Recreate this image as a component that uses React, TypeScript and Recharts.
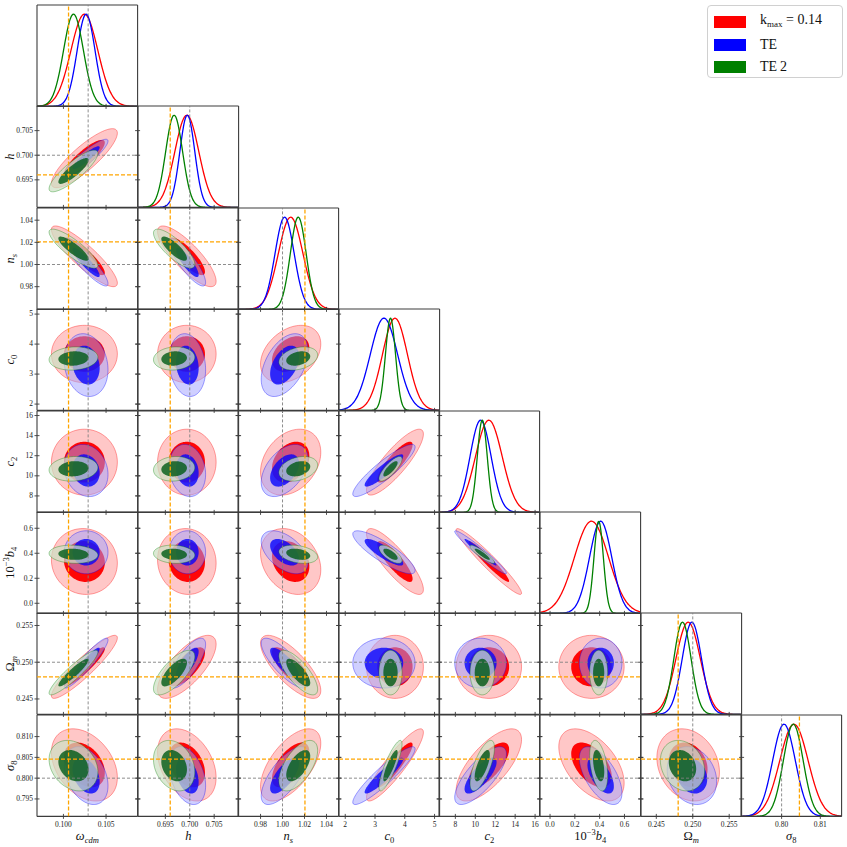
import React from 'react';
import {
  ComposedChart,
  ScatterChart,
  Scatter,
  Line,
  XAxis,
  YAxis,
  ReferenceLine,
  Legend,
} from 'recharts';

// grid geometry (page px)
const GRID_LEFT = 37;
const GRID_TOP = 5;
const CELL_W = 100.6;
const CELL_H = 101.4;
const PAD_L = 37;
const PAD_R = 6;
const PAD_T = 6;
const PAD_B = 34;
const N = 8;

const SERIF = '"Liberation Serif", "DejaVu Serif", serif';
const SPINE = '#3c3c3c';

// parameter axes
const domains: number[][] = [
  [0.0969, 0.1087],
  [0.6894, 0.71],
  [0.9595, 1.051],
  [1.79, 5.17],
  [6.36, 16.45],
  [-0.081, 0.73],
  [0.2429, 0.2567],
  [0.7908, 0.8152],
];
const tickValues: number[][] = [
  [0.1, 0.105],
  [0.695, 0.7, 0.705],
  [0.98, 1.0, 1.02, 1.04],
  [2, 3, 4, 5],
  [8, 10, 12, 14, 16],
  [0.0, 0.2, 0.4, 0.6],
  [0.245, 0.25, 0.255],
  [0.795, 0.8, 0.805, 0.81],
];
const tickLabels: string[][] = [
  ['0.100', '0.105'],
  ['0.695', '0.700', '0.705'],
  ['0.98', '1.00', '1.02', '1.04'],
  ['2', '3', '4', '5'],
  ['8', '10', '12', '14', '16'],
  ['0.0', '0.2', '0.4', '0.6'],
  ['0.245', '0.250', '0.255'],
  ['0.795', '0.800', '0.805', '0.810'],
];
const s8DiagDomain = [0.7895, 0.8155];
const s8DiagTicks = [0.8, 0.81];
const s8DiagTickLabels = ['0.80', '0.81'];

const fiducial: (number | null)[] = [0.1029, 0.7, 1.0, null, null, null, 0.25, 0.8];
const orangeRef: (number | null)[] = [0.1006, 0.696, 1.0204, null, null, null, 0.248, 0.8046];

// marginal means / widths
const meanRed = [0.10246, 0.6994, 1.0074, 3.67, 11.36, 0.334, 0.24937, 0.80319];
const sigmaRed = [0.00158, 0.00245, 0.0112, 0.42, 1.34, 0.138, 0.00167, 0.00366];
const meanBlue = [0.10266, 0.6995, 1.0019, 3.3, 10.53, 0.408, 0.24988, 0.80061];
const sigmaBlue = [0.00105, 0.00153, 0.0087, 0.46, 1.06, 0.09, 0.00132, 0.00293];
const meanGreen = [0.10118, 0.6968, 1.0143, 3.52, 10.7, 0.392, 0.24859, 0.80301];
const sigmaGreen = [0.00117, 0.00173, 0.0072, 0.17, 0.5, 0.038, 0.00118, 0.00256];

// 2D contours are a bit narrower than the marginals for some params
const contourScale = [1, 1, 1, 0.93, 1, 0.78, 1.05, 0.97];

// correlations, lower triangle (row i, col j < i)
const corrRed: number[][] = [
  [],
  [0.85],
  [-0.88, -0.82],
  [0.0, 0.0, 0.35],
  [0.0, 0.0, 0.3, 0.85],
  [-0.05, -0.05, -0.25, -0.85, -0.96],
  [0.92, 0.72, -0.75, 0.0, 0.0, 0.0],
  [-0.35, -0.35, 0.6, 0.9, 0.7, -0.5, -0.2],
];
const corrBlue: number[][] = [
  [],
  [0.9],
  [-0.9, -0.85],
  [-0.15, -0.15, 0.45],
  [-0.15, -0.15, 0.45, 0.9],
  [0.0, 0.0, -0.5, -0.85, -0.97],
  [0.93, 0.75, -0.8, 0.0, 0.0, 0.0],
  [-0.35, -0.35, 0.7, 0.92, 0.75, -0.6, -0.2],
];
const corrGreen: number[][] = [
  [],
  [0.85],
  [-0.85, -0.8],
  [0.1, 0.1, 0.3],
  [0.1, 0.1, 0.3, 0.8],
  [-0.1, -0.1, -0.3, -0.7, -0.9],
  [0.92, 0.72, -0.75, 0.0, 0.0, 0.0],
  [-0.25, -0.25, 0.6, 0.85, 0.7, -0.4, -0.2],
];

const seriesNames = ['kmax', 'TE', 'TE 2'];
const seriesColors = ['#ff0000', '#0000ff', '#008000'];

const means = [meanRed, meanBlue, meanGreen];
const sigmas = [sigmaRed, sigmaBlue, sigmaGreen];
const corrs = [corrRed, corrBlue, corrGreen];

// contour styles: [outer, inner] per series
const contourStyle = [
  [
    { fill: '#ff0000', op: 0.22, stroke: '#ff0000' },
    { fill: '#ff0000', op: 0.97, stroke: 'none' },
  ],
  [
    { fill: '#a0a0ff', op: 0.5, stroke: '#0000ff' },
    { fill: '#0000ff', op: 0.78, stroke: 'none' },
  ],
  [
    { fill: '#cde0c3', op: 0.72, stroke: '#008000' },
    { fill: '#005a14', op: 0.8, stroke: 'none' },
  ],
];
const R95 = Math.sqrt(5.99);
const R68 = Math.sqrt(2.3);

function ellipse(mx: number, my: number, sx: number, sy: number, rho: number, r: number) {
  const pts: { x: number; y: number }[] = [];
  const s = Math.sqrt(1 - rho * rho);
  for (let k = 0; k < 96; k++) {
    const t = (2 * Math.PI * k) / 96;
    const u = Math.cos(t);
    const v = Math.sin(t);
    pts.push({ x: mx + r * sx * u, y: my + r * sy * (rho * u + s * v) });
  }
  return pts;
}

function diagData(p: number, dom: number[]) {
  const rows: any[] = [];
  for (let k = 0; k <= 160; k++) {
    const x = dom[0] + ((dom[1] - dom[0]) * k) / 160;
    const row: any = { x };
    ['r', 'b', 'g'].forEach((key, c) => {
      const z = (x - means[c][p]) / sigmas[c][p];
      row[key] = Math.exp(-0.5 * z * z);
    });
    rows.push(row);
  }
  return rows;
}

const closedPath = (fill: string, op: number, stroke: string) => (props: any) => {
  const pts = (props.points || []).filter((q: any) => q.x != null && q.y != null);
  if (!pts.length) return <g />;
  const d = pts.map((q: any, k: number) => `${k ? 'L' : 'M'}${q.x},${q.y}`).join('') + 'Z';
  return (
    <path d={d} fill={fill} fillOpacity={op} stroke={stroke} strokeOpacity={0.45} strokeWidth={0.8} />
  );
};

const noShape = () => <g />;

const xTick = (ticks: number[], labels: string[] | null) => (p: any) => {
  const idx = ticks.indexOf(p.payload?.value);
  const yb = PAD_T + CELL_H;
  return (
    <g>
      <line x1={p.x} x2={p.x} y1={yb - 2.5} y2={yb + 2.5} stroke={SPINE} strokeWidth={0.9} />
      {labels && (
        <text x={p.x} y={yb + 10.5} textAnchor="middle" fontSize={7.5} fill="#222" fontFamily={SERIF}>
          {labels[idx >= 0 ? idx : p.index]}
        </text>
      )}
    </g>
  );
};

const yTick = (side: 'left' | 'right', ticks: number[], labels: string[] | null) => (p: any) => {
  const idx = ticks.indexOf(p.payload?.value);
  const x0 = side === 'left' ? PAD_L : PAD_L + CELL_W;
  return (
    <g>
      <line x1={x0 - 2.5} x2={x0 + 2.5} y1={p.y} y2={p.y} stroke={SPINE} strokeWidth={0.9} />
      {labels && (
        <text x={PAD_L - 4} y={p.y} dy="0.32em" textAnchor="end" fontSize={7.5} fill="#222" fontFamily={SERIF}>
          {labels[idx >= 0 ? idx : p.index]}
        </text>
      )}
    </g>
  );
};

function MathLabel({ p, x, y, rotate }: { p: number; x: number; y: number; rotate?: boolean }) {
  const fs = 12.5;
  const sub = 8.5;
  const tr = rotate ? `rotate(-90 ${x} ${y})` : undefined;
  let body: React.ReactNode = null;
  if (p === 0)
    body = (
      <>
        <tspan fontStyle="italic">ω</tspan>
        <tspan dy={3} fontSize={sub} fontStyle="italic">cdm</tspan>
      </>
    );
  if (p === 1) body = <tspan fontStyle="italic">h</tspan>;
  if (p === 2)
    body = (
      <>
        <tspan fontStyle="italic">n</tspan>
        <tspan dy={3} fontSize={sub} fontStyle="italic">s</tspan>
      </>
    );
  if (p === 3)
    body = (
      <>
        <tspan fontStyle="italic">c</tspan>
        <tspan dy={3} fontSize={sub}>0</tspan>
      </>
    );
  if (p === 4)
    body = (
      <>
        <tspan fontStyle="italic">c</tspan>
        <tspan dy={3} fontSize={sub}>2</tspan>
      </>
    );
  if (p === 5)
    body = (
      <>
        <tspan>10</tspan>
        <tspan dy={-5} fontSize={sub}>−3</tspan>
        <tspan dy={5} fontStyle="italic">b</tspan>
        <tspan dy={3} fontSize={sub}>4</tspan>
      </>
    );
  if (p === 6)
    body = (
      <>
        <tspan>Ω</tspan>
        <tspan dy={3} fontSize={sub} fontStyle="italic">m</tspan>
      </>
    );
  if (p === 7)
    body = (
      <>
        <tspan fontStyle="italic">σ</tspan>
        <tspan dy={3} fontSize={sub}>8</tspan>
      </>
    );
  return (
    <text x={x} y={y} textAnchor="middle" fontSize={fs} fill="#111" fontFamily={SERIF} transform={tr}>
      {body}
    </text>
  );
}

const renderLegend = (props: any) => {
  const payload = (props.payload || [])
    .slice()
    .sort((a: any, b: any) => seriesNames.indexOf(a.value) - seriesNames.indexOf(b.value));
  return (
    <div
      style={{
        boxSizing: 'border-box',
        width: 136,
        height: 73,
        border: '1px solid #d0d0d0',
        borderRadius: 4,
        background: '#fff',
        fontFamily: SERIF,
        fontSize: 14,
        color: '#111',
        paddingTop: 5,
      }}
    >
      {payload.map((e: any, k: number) => (
        <div key={k} style={{ display: 'flex', alignItems: 'center', height: 22.5 }}>
          <div style={{ marginLeft: 6, width: 32, height: 12, background: e.color }} />
          <div style={{ marginLeft: 14, lineHeight: '14px' }}>
            {e.value === 'kmax' ? (
              <span>
                k<sub style={{ fontSize: 9, verticalAlign: '-3px' }}>max</sub> = 0.14
              </span>
            ) : e.value === 'TE 2' ? (
              <span>TE&thinsp;2</span>
            ) : (
              <span>{e.value}</span>
            )}
          </div>
        </div>
      ))}
    </div>
  );
};

function refLines(p: number, dir: 'x' | 'y') {
  const out: React.ReactNode[] = [];
  const f = fiducial[p];
  const o = orangeRef[p];
  if (f != null)
    out.push(
      <ReferenceLine
        key={`f${dir}`}
        {...(dir === 'x' ? { x: f } : { y: f })}
        stroke="#808080"
        strokeDasharray="3 2"
        strokeWidth={0.9}
        zIndex={700}
        ifOverflow="hidden"
      />
    );
  if (o != null)
    out.push(
      <ReferenceLine
        key={`o${dir}`}
        {...(dir === 'x' ? { x: o } : { y: o })}
        stroke="#ffa500"
        strokeDasharray="4 2"
        strokeWidth={1.3}
        zIndex={710}
        ifOverflow="hidden"
      />
    );
  return out;
}

const chartW = PAD_L + CELL_W + PAD_R;
const chartH = PAD_T + CELL_H + PAD_B;
const margin = { top: 0, right: 0, bottom: 0, left: 0 };

function DiagPanel({ i }: { i: number }) {
  const isLast = i === N - 1;
  const dom = isLast ? s8DiagDomain : domains[i];
  const ticks = isLast ? s8DiagTicks : tickValues[i];
  const labels = isLast ? s8DiagTickLabels : null;
  const data = diagData(i, dom);
  return (
    <ComposedChart width={chartW} height={chartH} data={data} margin={margin}>
      <XAxis
        type="number"
        dataKey="x"
        domain={dom}
        allowDataOverflow
        ticks={ticks}
        interval={0}
        height={PAD_B}
        tickLine={false}
        axisLine={{ stroke: SPINE, strokeWidth: 1.1 }}
        tick={xTick(ticks, labels)}
        label={isLast ? () => <MathLabel p={i} x={PAD_L + CELL_W / 2} y={PAD_T + CELL_H + 24} /> : undefined}
      />
      <XAxis
        xAxisId="top"
        orientation="top"
        type="number"
        domain={dom}
        allowDataOverflow
        height={PAD_T}
        tick={false}
        tickLine={false}
        axisLine={{ stroke: SPINE, strokeWidth: 1.1 }}
      />
      <YAxis
        type="number"
        domain={[0, 1.1]}
        allowDataOverflow
        width={PAD_L}
        tick={false}
        tickLine={false}
        axisLine={{ stroke: SPINE, strokeWidth: 1.1 }}
      />
      <YAxis
        yAxisId="right"
        orientation="right"
        type="number"
        domain={[0, 1.1]}
        width={PAD_R}
        tick={false}
        tickLine={false}
        axisLine={{ stroke: SPINE, strokeWidth: 1.1 }}
      />
      {refLines(i, 'x')}
      {['r', 'b', 'g'].map((key, c) => (
        <Line
          key={key}
          type="monotone"
          dataKey={key}
          name={seriesNames[c]}
          stroke={seriesColors[c]}
          strokeWidth={1.3}
          dot={false}
          isAnimationActive={false}
        />
      ))}
      {i === 0 && (
        <Legend
          layout="vertical"
          align="center"
          verticalAlign="middle"
          content={renderLegend}
          wrapperStyle={{ left: 707, top: 6, width: 136, height: 73 }}
        />
      )}
    </ComposedChart>
  );
}

function PairPanel({ i, j }: { i: number; j: number }) {
  const showX = i === N - 1;
  const showY = j === 0;
  const layers: React.ReactNode[] = [];
  for (let c = 0; c < 3; c++) {
    const rho = corrs[c][i][j];
    const sx = sigmas[c][j] * contourScale[j];
    const sy = sigmas[c][i] * contourScale[i];
    [R95, R68].forEach((r, lvl) => {
      const st = contourStyle[c][lvl];
      layers.push(
        <Scatter
          key={`s${c}${lvl}`}
          data={ellipse(means[c][j], means[c][i], sx, sy, rho, r)}
          line={closedPath(st.fill, st.op, st.stroke)}
          lineType="joint"
          shape={noShape}
          legendType="none"
          isAnimationActive={false}
        />
      );
    });
  }
  return (
    <ScatterChart width={chartW} height={chartH} margin={margin}>
      <XAxis
        type="number"
        dataKey="x"
        domain={domains[j]}
        allowDataOverflow
        ticks={tickValues[j]}
        interval={0}
        height={PAD_B}
        tickLine={false}
        axisLine={{ stroke: SPINE, strokeWidth: 1.1 }}
        tick={xTick(tickValues[j], showX ? tickLabels[j] : null)}
        label={showX ? () => <MathLabel p={j} x={PAD_L + CELL_W / 2} y={PAD_T + CELL_H + 24} /> : undefined}
      />
      <XAxis
        xAxisId="top"
        orientation="top"
        type="number"
        domain={domains[j]}
        allowDataOverflow
        height={PAD_T}
        tick={false}
        tickLine={false}
        axisLine={{ stroke: SPINE, strokeWidth: 1.1 }}
      />
      <YAxis
        type="number"
        dataKey="y"
        domain={domains[i]}
        allowDataOverflow
        ticks={tickValues[i]}
        interval={0}
        width={PAD_L}
        tickLine={false}
        axisLine={{ stroke: SPINE, strokeWidth: 1.1 }}
        tick={yTick('left', tickValues[i], showY ? tickLabels[i] : null)}
        label={
          showY ? () => <MathLabel p={i} x={14} y={PAD_T + CELL_H / 2} rotate /> : undefined
        }
      />
      <YAxis
        yAxisId="right"
        orientation="right"
        type="number"
        domain={domains[i]}
        allowDataOverflow
        ticks={tickValues[i]}
        interval={0}
        width={PAD_R}
        tickLine={false}
        axisLine={{ stroke: SPINE, strokeWidth: 1.1 }}
        tick={yTick('right', tickValues[i], null)}
      />
      {layers}
      {refLines(j, 'x')}
      {refLines(i, 'y')}
    </ScatterChart>
  );
}

export default function App() {
  const cells: React.ReactNode[] = [];
  for (let i = 0; i < N; i++) {
    for (let j = 0; j <= i; j++) {
      const left = GRID_LEFT + j * CELL_W - PAD_L;
      const top = GRID_TOP + i * CELL_H - PAD_T;
      cells.push(
        <div key={`${i}-${j}`} style={{ position: 'absolute', left, top, width: chartW, height: chartH }}>
          {i === j ? <DiagPanel i={i} /> : <PairPanel i={i} j={j} />}
        </div>
      );
    }
  }
  return (
    <div
      style={{
        position: 'absolute',
        left: 0,
        top: 0,
        width: 847,
        height: 847,
        background: '#fff',
        overflow: 'hidden',
        fontFamily: SERIF,
      }}
    >
      {cells}
    </div>
  );
}
